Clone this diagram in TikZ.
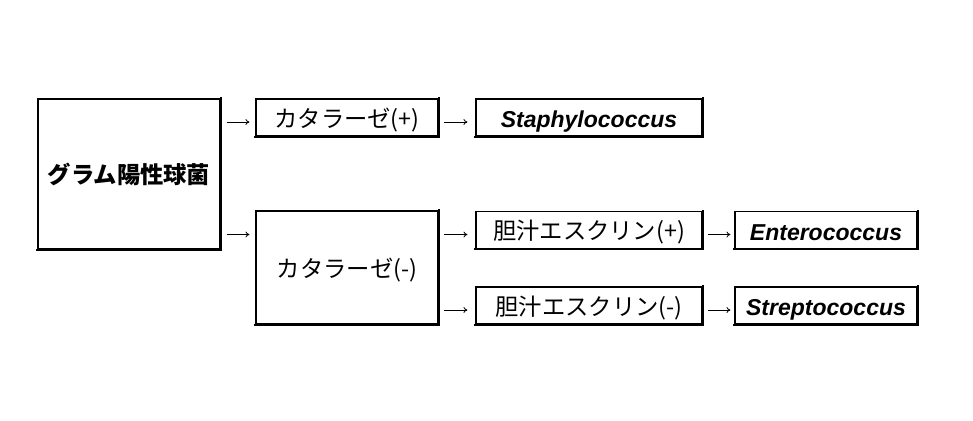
\documentclass[tikz,border=0pt]{standalone}
\usepackage{fontspec}
\setmainfont{Liberation Sans}
\newfontfamily\jp{Noto Sans CJK JP}
\usetikzlibrary{calc,arrows.meta}
\tikzset{
  box/.style={draw, line width=1.1pt, inner sep=0pt, minimum width=182pt, minimum height=37pt, text height=19.5pt, text depth=0pt, font=\jp\fontsize{23.3}{26}\selectfont},
  wide/.style={minimum width=226pt},
  latin/.style={font=\fontsize{23}{26}\selectfont\bfseries\itshape, text height=20pt},
  arr/.style={line width=0.8pt, -{To[length=4pt,width=6pt]}},
  heavy/.style={line width=2pt, line cap=rect}
}
\begin{document}
\begin{tikzpicture}[x=1pt,y=-1pt]
\useasboundingbox (0,0) rectangle (973,420);
\node[box, minimum height=150pt, font=\jp\bfseries\fontsize{23.3}{26}\selectfont] (main) at (129,174) {グラム陽性球菌};
\node[box] (cp) at (347,117.5) {カタラーゼ(+)};
\node[box, wide, latin] (staph) at (589,117.5) {Staphylococcus};
\node[box, minimum height=113pt] (cn) at (347,267.5) {カタラーゼ(-)};
\node[box, wide] (bp) at (589,230) {胆汁エスクリン(+)};
\node[box, wide] (bn) at (589,305.5) {胆汁エスクリン(-)};
\node[box, latin] (ent) at (826,230) {Enterococcus};
\node[box, latin] (str) at (826,305.5) {Streptococcus};
\foreach \n in {main,cp,staph,cn,bp,bn,ent,str}
  \draw[heavy] (\n.north east) -- (\n.south east) -- (\n.south west);
\draw[arr] ($(main.east|-cp.west)+(6,4.5)$) -- ($(cp.west)+(-6,4.5)$);
\draw[arr] ($(main.east|-bp.west)+(6,4.5)$) -- ($(cn.west|-bp.west)+(-6,4.5)$);
\draw[arr] ($(cp.east)+(5,4.5)$) -- ($(staph.west)+(-8,4.5)$);
\draw[arr] ($(cn.east|-bp.west)+(5,4.5)$) -- ($(bp.west)+(-8,4.5)$);
\draw[arr] ($(cn.east|-bn.west)+(5,4.5)$) -- ($(bn.west)+(-8,4.5)$);
\draw[arr] ($(bp.east)+(5,4.5)$) -- ($(ent.west)+(-4,4.5)$);
\draw[arr] ($(bn.east)+(5,4.5)$) -- ($(str.west)+(-4,4.5)$);
\end{tikzpicture}
\end{document}
